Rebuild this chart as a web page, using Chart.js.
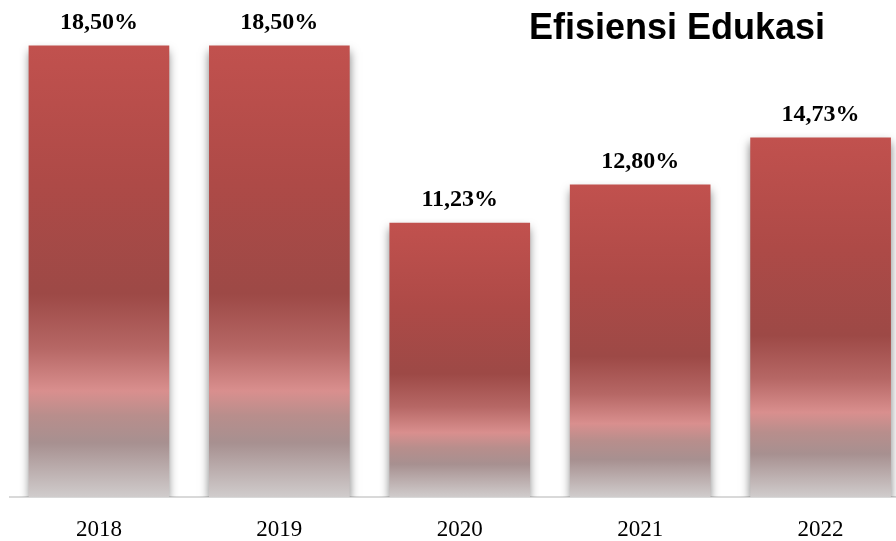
<html>

<head>
    <script src="https://cdn.jsdelivr.net/npm/chart.js@4.4.0/dist/chart.umd.min.js"></script>

    <style>
        body {
            margin: 0;
            background-color: #ffffff;
        }

        #wrap {
            width: 896px;
            height: 541px;
        }
    </style>

</head>

<body>
    <div id="wrap">
        <canvas id="myChart"></canvas>
    </div>
</body>
<script>

    // yearly values (percent)
    var years = ['2018', '2019', '2020', '2021', '2022'];
    var efficiency = [18.50, 18.50, 11.23, 12.80, 14.73];
    var chartTitle = 'Efisiensi Edukasi';

    // shaded fill for each bar: red on top, dark in the middle, pink band, grey fade
    function barGradient(context) {
        var chart = context.chart;
        if (context.type !== 'data' || !chart.chartArea) {
            return '#C0504D';
        }
        var yScale = chart.scales.y;
        var top = yScale.getPixelForValue(context.parsed.y);
        var base = yScale.getPixelForValue(0);
        var g = chart.ctx.createLinearGradient(0, top, 0, base);
        g.addColorStop(0, 'rgb(193, 81, 78)');
        g.addColorStop(0.30, 'rgb(174, 74, 71)');
        g.addColorStop(0.55, 'rgb(157, 73, 70)');
        g.addColorStop(0.67, 'rgb(182, 103, 101)');
        g.addColorStop(0.765, 'rgb(217, 143, 142)');
        g.addColorStop(0.82, 'rgb(184, 142, 140)');
        g.addColorStop(0.88, 'rgb(167, 144, 144)');
        g.addColorStop(1, 'rgb(208, 204, 204)');
        return g;
    }

    // soft drop shadow behind the bars
    var barShadow = {
        id: 'barShadow',
        beforeDatasetsDraw: function (chart) {
            var ctx = chart.ctx;
            ctx.save();
            ctx.shadowColor = 'rgba(0, 0, 0, 0.5)';
            ctx.shadowBlur = 9;
            ctx.shadowOffsetX = 0;
            ctx.shadowOffsetY = 5;
        },
        afterDatasetsDraw: function (chart) {
            chart.ctx.restore();
        }
    };

    // value labels over the bars plus the title text
    var labelsAndTitle = {
        id: 'labelsAndTitle',
        afterDraw: function (chart) {
            var ctx = chart.ctx;
            var meta = chart.getDatasetMeta(0);
            ctx.save();
            ctx.fillStyle = '#000000';
            ctx.font = 'bold 24px "Liberation Serif", "Times New Roman", serif';
            ctx.textAlign = 'center';
            ctx.textBaseline = 'alphabetic';
            meta.data.forEach(function (bar, i) {
                var txt = efficiency[i].toFixed(2).replace('.', ',') + '%';
                ctx.fillText(txt, bar.x, bar.y - 17);
            });

            ctx.font = 'bold 36px "Liberation Sans", Arial, sans-serif';
            ctx.textAlign = 'left';
            ctx.fillText(chartTitle, 529, 39);
            ctx.restore();
        }
    };

    function drawMyChart() {

        var paintingCanvas = document.getElementById('myChart').getContext('2d');
        var chart = new Chart(paintingCanvas, {
            type: 'bar',

            data: {
                datasets: [
                    {
                        label: chartTitle,
                        data: efficiency.map(function (v, i) { return { x: i, y: v }; }),
                        backgroundColor: barGradient,
                        borderWidth: 0,
                        barThickness: 140
                    }
                ]
            },

            options: {
                responsive: true,
                maintainAspectRatio: false,
                animation: false,
                layout: {
                    padding: { left: 10, right: 0, top: 0, bottom: 0 }
                },
                plugins: {
                    legend: { display: false },
                    tooltip: { enabled: false },
                    title: { display: false }
                },
                scales: {
                    x: {
                        type: 'linear',
                        offset: false,
                        min: -0.493,
                        max: 4.418,
                        afterBuildTicks: function (scale) {
                            scale.ticks = years.map(function (y, i) { return { value: i }; });
                        },
                        afterFit: function (scale) {
                            scale.height = 44;
                        },
                        grid: { display: false, drawTicks: false, offset: false },
                        border: { display: true, color: '#D9D9D9', width: 2 },
                        ticks: {
                            padding: 19,
                            color: '#000000',
                            font: { family: '"Liberation Serif", "Times New Roman", serif', size: 23 },
                            callback: function (value) {
                                return years[value];
                            }
                        }
                    },
                    y: {
                        display: false,
                        min: 0,
                        max: 20.38
                    }
                }
            },
            plugins: [barShadow, labelsAndTitle]
        });
    }

    drawMyChart();

</script>

</html>
